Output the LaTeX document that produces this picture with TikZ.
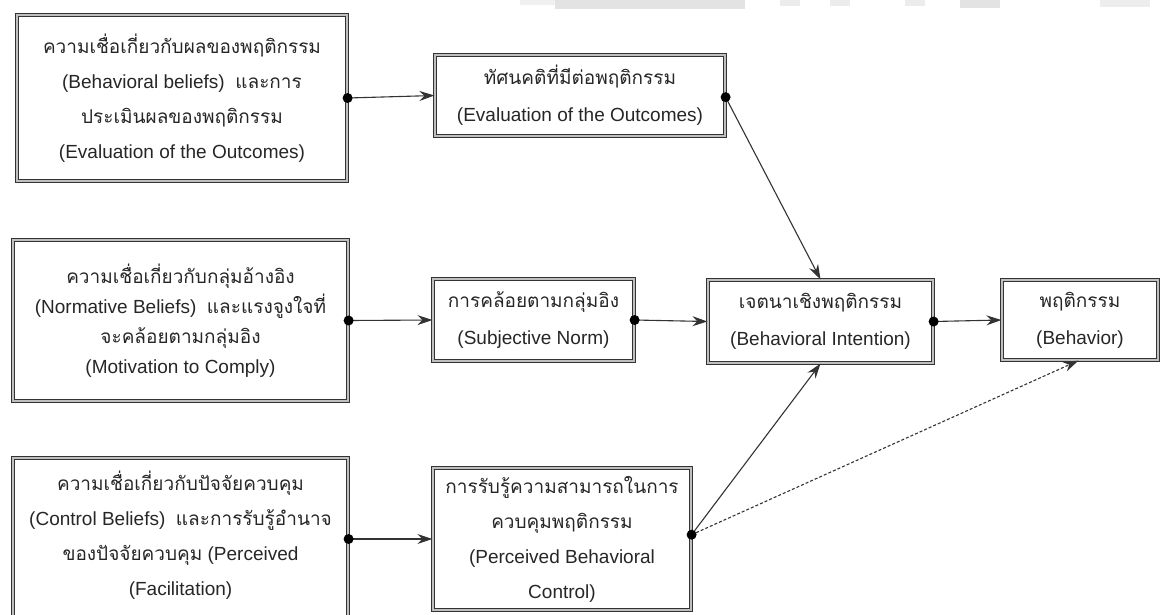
\documentclass[tikz,border=0pt]{standalone}
\usepackage{fontspec}
\setmainfont{Liberation Sans}
\newfontfamily\thaifont[Script=Thai]{Loma}
\newcommand{\tht}[1]{{\thaifont #1}}
\usetikzlibrary{arrows.meta,calc}

\begin{document}
\begin{tikzpicture}[x=1pt,y=-1pt,
  box/.style={draw=black!80, line width=1.2pt, double=gray!50, double distance=1.5pt,
    inner sep=0pt, align=center, text=black!85, font=\fontsize{19}{35}\selectfont},
  label text/.style={inner sep=0pt, align=center, text=black!85, font=\fontsize{19}{35}\selectfont},
  conn/.style={draw=black!80, line width=1.1pt, -{Stealth[length=15pt,width=10pt,inset=5pt]}},
  dotted link/.style={conn, dash pattern=on 3pt off 2pt},
  knob/.style={fill=black}
]
\useasboundingbox (0,0) rectangle (1161,614);

% faint header strip along the top edge
\fill[gray!12] (520,0) rectangle (555,5);
\fill[gray!22] (555,0) rectangle (745,9);
\fill[gray!15] (780,0) rectangle (800,6);
\fill[gray!15] (830,0) rectangle (850,6);
\fill[gray!15] (905,0) rectangle (925,6);
\fill[gray!22] (960,0) rectangle (1000,8);
\fill[gray!14] (1100,0) rectangle (1150,7);

% belief boxes (left column)
\node[box, minimum width=330pt, minimum height=166pt] (bb) at (182,98)
  {\tht{ความเชื่อเกี่ยวกับผลของพฤติกรรม}\\
   (Behavioral beliefs)\ \ \tht{และการ}\\
   \tht{ประเมินผลของพฤติกรรม}\\
   (Evaluation of the Outcomes)};
\node[box, minimum width=335pt, minimum height=161pt, font=\fontsize{19}{30}\selectfont] (nb) at (180.5,320.5)
  {\tht{ความเชื่อเกี่ยวกับกลุ่มอ้างอิง}\\
   (Normative Beliefs)\ \ \tht{และแรงจูงใจที่}\\
   \tht{จะคล้อยตามกลุ่มอิง}\\
   (Motivation to Comply)};
\node[box, minimum width=335pt, minimum height=162pt] (cb) at (180.5,539) {};
\node[label text] (cbtext) at (180.5,535)
  {\tht{ความเชื่อเกี่ยวกับปัจจัยควบคุม}\\
   (Control Beliefs)\ \ \tht{และการรับรู้อำนาจ}\\
   \tht{ของปัจจัยควบคุม} (Perceived\\
   (Facilitation)};

% middle column
\node[box, minimum width=290pt, minimum height=81pt, font=\fontsize{19}{37}\selectfont] (att) at (580,95.5)
  {\tht{ทัศนคติที่มีต่อพฤติกรรม}\\(Evaluation of the Outcomes)};
\node[box, minimum width=201pt, minimum height=82pt, font=\fontsize{19}{37}\selectfont] (sn) at (533.5,320)
  {\tht{การคล้อยตามกลุ่มอิง}\\(Subjective Norm)};
\node[box, minimum width=258pt, minimum height=142pt] (pbc) at (562,539)
  {\tht{การรับรู้ความสามารถในการ}\\
   \tht{ควบคุมพฤติกรรม}\\
   (Perceived Behavioral\\
   Control)};

% intention and behaviour
\node[box, minimum width=225pt, minimum height=83pt, font=\fontsize{19}{37}\selectfont] (bi) at (820.5,321.5)
  {\tht{เจตนาเชิงพฤติกรรม}\\(Behavioral Intention)};
\node[box, minimum width=156pt, minimum height=80pt, font=\fontsize{19}{37}\selectfont] (beh) at (1080,320)
  {\tht{พฤติกรรม}\\(Behavior)};

% connectors
\draw[conn] (bb.east) -- (att.west);
\draw[conn] (nb.east) -- (sn.west);
\draw[conn] (cb.east) -- (pbc.west);
\draw[conn] ($(att.north east)!0.52!(att.south east)$) coordinate (attout) -- (bi.north);
\draw[conn] (sn.east) -- (bi.west);
\draw[conn] ($(pbc.north east)!0.47!(pbc.south east)$) coordinate (pbcout) -- (bi.south);
\draw[dotted link] (pbcout) -- ($(beh.south west)!0.49!(beh.south east)$);
\draw[conn] (bi.east) -- (beh.west);

% junction dots on the source borders
\foreach \p in {bb.east, nb.east, cb.east, attout, sn.east, pbcout, bi.east}
  \fill[knob] (\p) circle (5pt);
\end{tikzpicture}
\end{document}
